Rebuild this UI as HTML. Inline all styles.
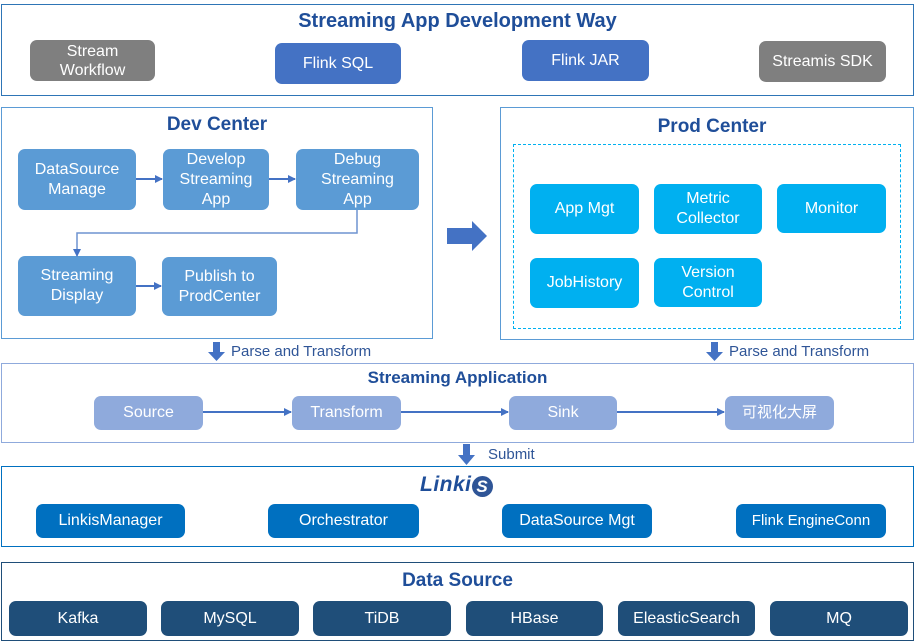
<!DOCTYPE html>
<html><head><meta charset="utf-8"><style>
body{margin:0;width:915px;height:643px;background:#fff;position:relative;font-family:"Liberation Sans","Noto Sans CJK SC",sans-serif;overflow:hidden}
.a{position:absolute;box-sizing:border-box}
.frame{border:1.3px solid #2e75b6}
.t{position:absolute;left:0;right:0;text-align:center;font-weight:bold;color:#1f4e99}
.b{position:absolute;box-sizing:border-box;display:flex;align-items:center;justify-content:center;text-align:center;color:#fff;font-size:16px;line-height:20px;border-radius:7px}
.lbl{position:absolute;font-size:15px;color:#2f5597}
</style></head><body>
<div class="a frame" style="left:1px;top:4px;width:913px;height:92px;border-color:#2e75b6"></div>
<div class="t" style="top:10px;font-size:20px">Streaming App Development Way</div>
<div class="b" style="left:30px;top:40px;width:125px;height:41px;background:#7f7f7f;font-size:16px;line-height:19px">Stream<br>Workflow</div>
<div class="b" style="left:275px;top:43px;width:126px;height:41px;background:#4472c4">Flink SQL</div>
<div class="b" style="left:522px;top:40px;width:127px;height:41px;background:#4472c4">Flink JAR</div>
<div class="b" style="left:759px;top:41px;width:127px;height:41px;background:#7f7f7f">Streamis SDK</div>

<div class="a frame" style="left:1px;top:107px;width:432px;height:232px;border-color:#5b9bd5"></div>
<div class="t" style="left:1px;width:432px;top:114px;font-size:19px">Dev Center</div>
<div class="b" style="left:18px;top:149px;width:118px;height:61px;background:#5b9bd5">DataSource<br>Manage</div>
<div class="b" style="left:163px;top:149px;width:106px;height:61px;background:#5b9bd5">Develop<br>Streaming<br>App</div>
<div class="b" style="left:296px;top:149px;width:123px;height:61px;background:#5b9bd5">Debug<br>Streaming<br>App</div>
<div class="b" style="left:18px;top:256px;width:118px;height:60px;background:#5b9bd5">Streaming<br>Display</div>
<div class="b" style="left:162px;top:257px;width:115px;height:59px;background:#5b9bd5">Publish to<br>ProdCenter</div>

<div class="a frame" style="left:500px;top:107px;width:414px;height:233px;border-color:#5b9bd5"></div>
<div class="t" style="left:500px;width:424px;top:116px;font-size:19px">Prod Center</div>
<div class="a" style="left:513px;top:144px;width:388px;height:185px;border:1.3px dashed #00b0f0"></div>
<div class="b" style="left:530px;top:184px;width:109px;height:50px;background:#00b0f0">App Mgt</div>
<div class="b" style="left:654px;top:184px;width:108px;height:50px;background:#00b0f0">Metric<br>Collector</div>
<div class="b" style="left:777px;top:184px;width:109px;height:49px;background:#00b0f0">Monitor</div>
<div class="b" style="left:530px;top:258px;width:109px;height:50px;background:#00b0f0">JobHistory</div>
<div class="b" style="left:654px;top:258px;width:108px;height:49px;background:#00b0f0">Version<br>Control</div>

<div class="a frame" style="left:1px;top:363px;width:913px;height:80px;border-color:#8faadc"></div>
<div class="t" style="top:368px;font-size:17px">Streaming Application</div>
<div class="b" style="left:94px;top:396px;width:109px;height:34px;background:#8faadc">Source</div>
<div class="b" style="left:292px;top:396px;width:109px;height:34px;background:#8faadc">Transform</div>
<div class="b" style="left:509px;top:396px;width:108px;height:34px;background:#8faadc">Sink</div>
<div class="b" style="left:725px;top:396px;width:109px;height:34px;background:#8faadc;font-size:15px">可视化大屏</div>

<div class="a frame" style="left:1px;top:466px;width:913px;height:81px;border-color:#0070c0"></div>
<div class="a" style="left:420px;top:473px;font-size:21px;font-weight:bold;font-style:italic;color:#1f4e99;letter-spacing:0.5px">Linki<span style="display:inline-block;width:21px;height:21px;border-radius:50%;background:#2f5597;color:#fff;font-size:17px;line-height:21px;text-align:center;vertical-align:-1px;letter-spacing:0">S</span></div>
<div class="b" style="left:36px;top:504px;width:149px;height:34px;background:#0070c0">LinkisManager</div>
<div class="b" style="left:268px;top:504px;width:151px;height:34px;background:#0070c0">Orchestrator</div>
<div class="b" style="left:502px;top:504px;width:150px;height:34px;background:#0070c0">DataSource Mgt</div>
<div class="b" style="left:736px;top:504px;width:150px;height:34px;background:#0070c0;font-size:15px">Flink EngineConn</div>

<div class="a frame" style="left:1px;top:562px;width:913px;height:79px;border-color:#1f4e79"></div>
<div class="t" style="top:570px;font-size:19px">Data Source</div>
<div class="b" style="left:9px;top:601px;width:138px;height:35px;background:#1f4e79">Kafka</div>
<div class="b" style="left:161px;top:601px;width:138px;height:35px;background:#1f4e79">MySQL</div>
<div class="b" style="left:313px;top:601px;width:138px;height:35px;background:#1f4e79">TiDB</div>
<div class="b" style="left:466px;top:601px;width:137px;height:35px;background:#1f4e79">HBase</div>
<div class="b" style="left:618px;top:601px;width:137px;height:35px;background:#1f4e79">EleasticSearch</div>
<div class="b" style="left:770px;top:601px;width:138px;height:35px;background:#1f4e79">MQ</div>

<div class="lbl" style="left:231px;top:343px">Parse and Transform</div>
<div class="lbl" style="left:729px;top:343px">Parse and Transform</div>
<div class="lbl" style="left:488px;top:446px">Submit</div>

<svg class="a" style="left:0;top:0" width="915" height="643">
<defs><marker id="m" markerWidth="8" markerHeight="8" refX="7" refY="4" orient="auto" markerUnits="userSpaceOnUse"><path d="M0,0 L8,4 L0,8z" fill="#4472c4"/></marker></defs>
<g stroke="#4472c4" stroke-width="2" fill="none">
<line x1="136" y1="179" x2="162" y2="179" marker-end="url(#m)"/>
<line x1="269" y1="179" x2="295" y2="179" marker-end="url(#m)"/>
<polyline points="357,210 357,233 77,233 77,256" marker-end="url(#m)" stroke="#6f94d0" stroke-width="1.5"/>
<line x1="136" y1="286" x2="161" y2="286" marker-end="url(#m)"/>
<line x1="203" y1="412" x2="291" y2="412" marker-end="url(#m)"/>
<line x1="401" y1="412" x2="508" y2="412" marker-end="url(#m)"/>
<line x1="617" y1="412" x2="724" y2="412" marker-end="url(#m)"/>
</g>
<path d="M447,228 L472,228 L472,221 L487,236 L472,251 L472,244 L447,244z" fill="#4472c4"/>
<path d="M213,342 L220,342 L220,352 L225,352 L216.5,361 L208,352 L213,352z" fill="#4472c4"/>
<path d="M711,342 L718,342 L718,352 L723,352 L714.5,361 L706,352 L711,352z" fill="#4472c4"/>
<path d="M463,444 L470,444 L470,455 L475,455 L466.5,465 L458,455 L463,455z" fill="#4472c4"/>
</svg>
</body></html>
